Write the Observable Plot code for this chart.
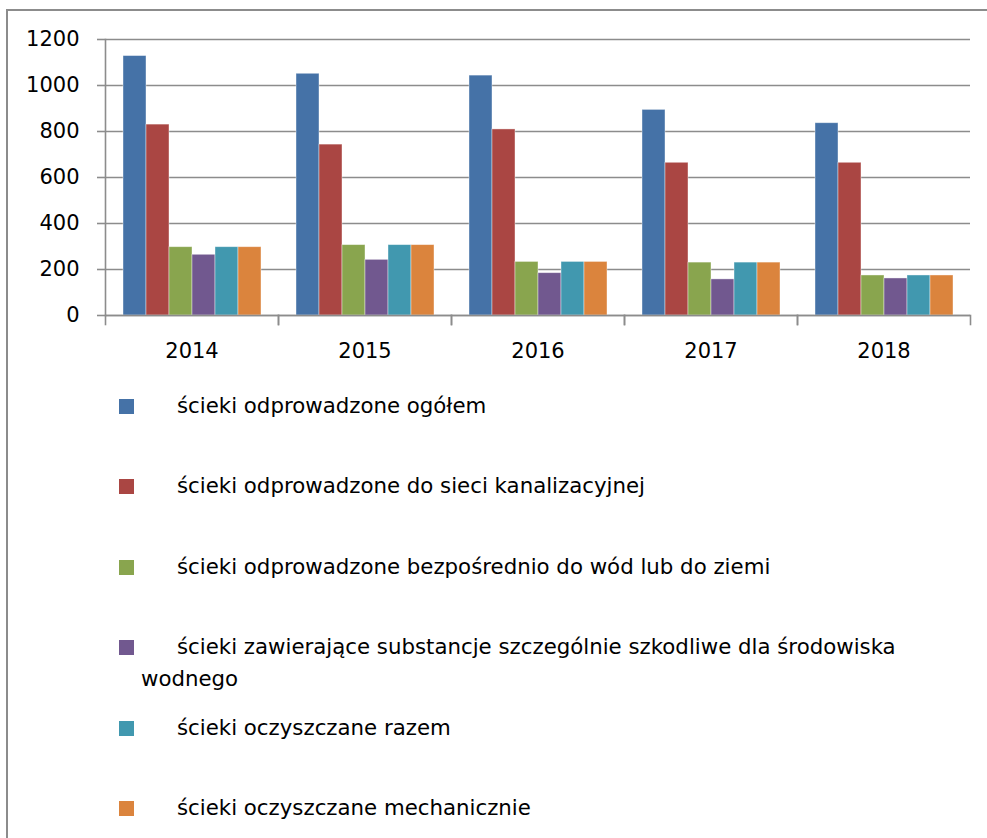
<!DOCTYPE html>
<html>
<head>
<meta charset="utf-8">
<script src="https://cdn.jsdelivr.net/npm/d3@7"></script>
<script src="https://cdn.jsdelivr.net/npm/@observablehq/plot@0.6"></script>
<style>
  html, body { margin: 0; padding: 0; background: #fff; }
  #wrap { position: relative; width: 987px; height: 838px; overflow: hidden; font-family: "DejaVu Sans", sans-serif; color: #000; }
  #border { position: absolute; left: 6px; top: 9px; width: 1000px; height: 900px; border-left: 2px solid #8c8c8c; border-top: 2px solid #8c8c8c; }
  #chart { position: absolute; left: 0; top: 0; }
  .sw { position: absolute; left: 119px; width: 15px; height: 15px; }
  .item { position: absolute; left: 141px; width: 800px; text-indent: 36px; font-size: 21.3px; line-height: 32px; }
</style>
</head>
<body>
<div id="wrap">
  <div id="border"></div>
  <div id="chart"></div>
  <div id="legend"></div>
</div>
<script>
const years = ["2014", "2015", "2016", "2017", "2018"];
const series = [
  "ścieki odprowadzone ogółem",
  "ścieki odprowadzone do sieci kanalizacyjnej",
  "ścieki odprowadzone bezpośrednio do wód lub do ziemi",
  "ścieki zawierające substancje szczególnie szkodliwe dla środowiska wodnego",
  "ścieki oczyszczane razem",
  "ścieki oczyszczane mechanicznie"
];
const colors = ["#4572A7", "#AA4643", "#89A54E", "#71588F", "#4198AF", "#DB843D"];
const ogolem      = [1128, 1051, 1043, 894, 836];
const kanalizacja = [830, 743, 809, 664, 664];
const bezposrednio = [297, 306, 233, 230, 174];
const szkodliwe   = [264, 242, 184, 157, 161];
const razem       = [297, 306, 233, 230, 174];
const mechanicznie = [297, 306, 233, 230, 174];
const yTicks = [0, 200, 400, 600, 800, 1000, 1200];

const values = [ogolem, kanalizacja, bezposrednio, szkodliwe, razem, mechanicznie];
const data = series.flatMap((s, i) => years.map((y, j) => ({year: y, series: s, value: values[i][j]})));

const grid = "#8c8c8c";
const chart = Plot.plot({
  width: 987,
  height: 372,
  marginLeft: 103,
  marginRight: 16,
  marginTop: 39,
  marginBottom: 57,
  style: {fontFamily: "DejaVu Sans, sans-serif", fontSize: "21px", color: "#000", background: "transparent", overflow: "visible"},
  fx: {domain: years, padding: 0, label: null, axis: null},
  x: {domain: series, paddingInner: 0, paddingOuter: 0.715, axis: null},
  y: {domain: [0, 1200], label: null, axis: null},
  color: {domain: series, range: colors},
  marks: [
    Plot.gridY(yTicks, {stroke: grid, strokeOpacity: 1, strokeWidth: 1.6}),
    Plot.barY(data, {fx: "year", x: "series", y: "value", fill: "series", stroke: "#fff", strokeOpacity: 0.5, strokeWidth: 0.8}),
    Plot.ruleY([0], {stroke: grid, strokeWidth: 1.6}),
    Plot.frame({anchor: "left", facetAnchor: "left", stroke: grid, strokeWidth: 1.6}),
    Plot.frame({anchor: "left", insetTop: 276, insetBottom: -9, stroke: grid, strokeWidth: 1.6}),
    Plot.frame({anchor: "right", insetTop: 276, insetBottom: -9, stroke: grid, strokeWidth: 1.6}),
    Plot.axisY(yTicks, {anchor: "left", tickSize: 8, tickPadding: 18, tickFormat: d => String(d), stroke: grid, strokeWidth: 1.6, fontSize: 21, fill: "#000", label: null}),
    Plot.axisFx({anchor: "bottom", tickSize: 0, tickPadding: 28, fontSize: 21, fill: "#000", label: null})
  ]
});
document.getElementById("chart").appendChild(chart);

const legend = document.getElementById("legend");
series.forEach((s, i) => {
  const top = 399 + i * 80.4;
  const sw = document.createElement("div");
  sw.className = "sw";
  sw.style.top = top + "px";
  sw.style.background = colors[i];
  legend.appendChild(sw);
  const it = document.createElement("div");
  it.className = "item";
  it.style.top = (top - 9) + "px";
  it.textContent = s;
  legend.appendChild(it);
});
</script>
</body>
</html>
